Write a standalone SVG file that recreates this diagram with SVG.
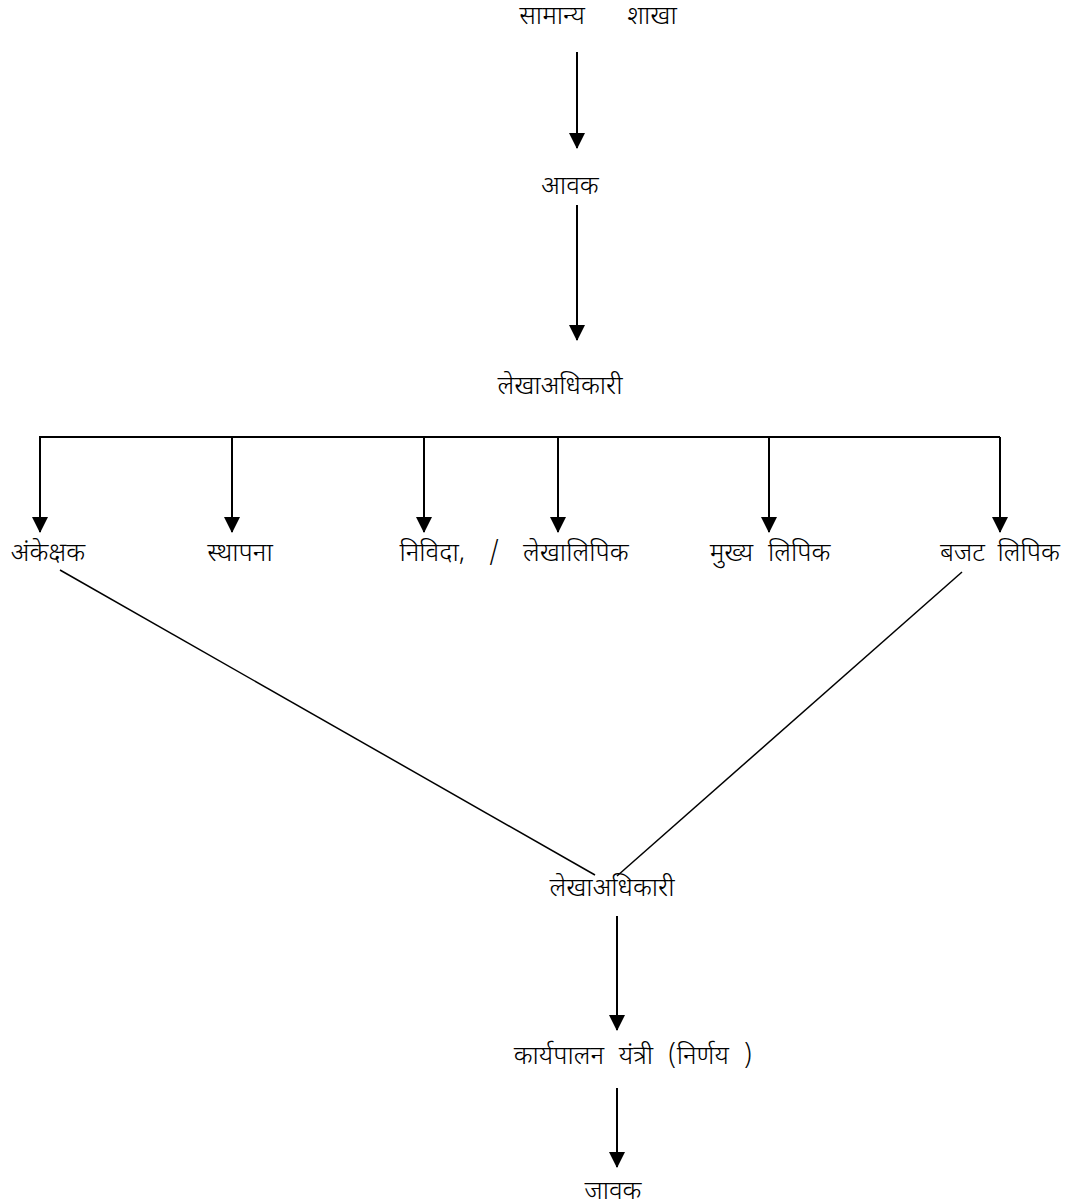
<svg xmlns="http://www.w3.org/2000/svg" width="1073" height="1202" viewBox="0 0 1073 1202">
<style>
text{font-family:"Noto Sans Devanagari","Noto Sans","DejaVu Sans",sans-serif;font-size:26px;font-weight:300;fill:#000;text-anchor:middle}
.c{stroke:#000;stroke-width:2;fill:none}
.a{stroke:#000;stroke-width:2;fill:none;marker-end:url(#ah)}
.d{stroke:#000;stroke-width:1.5;fill:none}
</style>
<defs>
<marker id="ah" markerWidth="16" markerHeight="16" refX="15" refY="8" orient="auto" markerUnits="userSpaceOnUse" viewBox="0 0 16 16">
<path d="M0,0 L16,8 L0,16 Z" fill="#000"/>
</marker>
</defs>
<rect width="1073" height="1202" fill="#fff"/>
<g id="connectors">
<line class="a" x1="577" y1="52" x2="577" y2="148"/>
<line class="a" x1="577" y1="205" x2="577" y2="340"/>
<polyline class="c" points="40,532 40,437 1000,437"/>
<line class="a" x1="40" y1="437" x2="40" y2="532"/>
<line class="a" x1="232" y1="437" x2="232" y2="532"/>
<line class="a" x1="424" y1="437" x2="424" y2="532"/>
<line class="a" x1="558" y1="437" x2="558" y2="532"/>
<line class="a" x1="769" y1="437" x2="769" y2="532"/>
<line class="a" x1="1000" y1="437" x2="1000" y2="532"/>
<line class="d" x1="60" y1="570" x2="595" y2="875"/>
<line class="d" x1="962" y1="572" x2="617" y2="876"/>
<line class="a" x1="617" y1="916" x2="617" y2="1030"/>
<line class="a" x1="617" y1="1088" x2="617" y2="1167"/>
</g>
<g id="n-samanya"><text y="24"><tspan x="552">सामान्य</tspan><tspan x="652">शाखा</tspan></text></g>
<g id="n-aavak"><text x="570" y="194">आवक</text></g>
<g id="n-lekha1"><text x="560" y="394">लेखाअधिकारी</text></g>
<g id="n-ankekshak"><text x="48" y="561">अंकेक्षक</text></g>
<g id="n-sthapana"><text x="240" y="561">स्थापना</text></g>
<g id="n-nivida"><text x="514" y="561" style="word-spacing:17px">निविदा, / लेखालिपिक</text></g>
<g id="n-mukhya"><text x="770" y="561" style="word-spacing:8px">मुख्य लिपिक</text></g>
<g id="n-bajat"><text x="1000" y="561" style="word-spacing:6px">बजट लिपिक</text></g>
<g id="n-lekha2"><text x="612" y="896">लेखाअधिकारी</text></g>
<g id="n-karyapalan"><text x="633" y="1064" style="word-spacing:8px">कार्यपालन यंत्री (निर्णय )</text></g>
<g id="n-javak"><text x="613" y="1199">जावक</text></g>
</svg>
